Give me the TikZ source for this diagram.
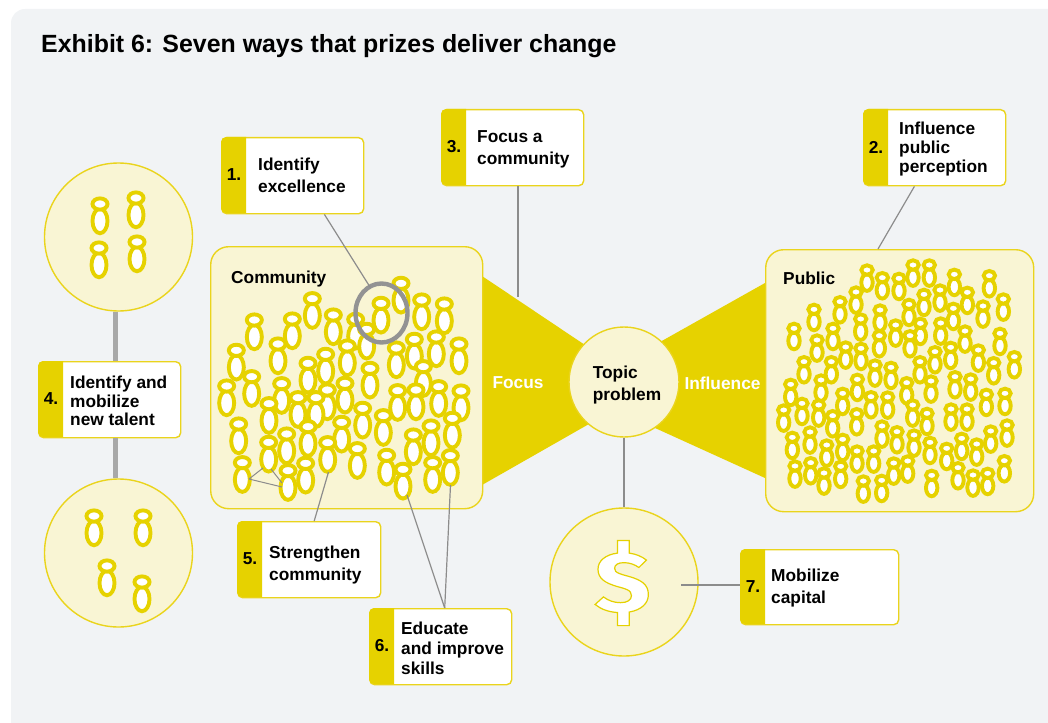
\documentclass[tikz,border=0pt]{standalone}
\usepackage{fontspec}
\setmainfont{Liberation Sans}
\usetikzlibrary{shapes.geometric}
\definecolor{yel}{HTML}{E6D200}
\definecolor{edgey}{HTML}{EAD41C}
\definecolor{pale}{HTML}{F9F5D4}
\definecolor{panel}{HTML}{F1F3F5}
\definecolor{conn}{HTML}{8C8C8C}
\definecolor{thick}{HTML}{A8A8A8}
\definecolor{ringc}{HTML}{939393}
\font\dollarf="Fira Sans/B:extend=1.2;embolden=1.4" at 86pt
\tikzset{
  x=1pt,y=-1pt,
  every node/.style={inner sep=0pt,font=\fontsize{17.3}{20}\bfseries\selectfont},
  bigpanel/.style={draw=edgey,line width=1.4pt,fill=pale,rounded corners=18pt,anchor=north west},
  disc/.style={circle,draw=edgey,line width=1.4pt,fill=pale},
  whitebox/.style={draw=edgey,line width=1.4pt,fill=white,rounded corners=5pt,anchor=north west},
  conline/.style={draw=conn,line width=1.2pt},
  thickline/.style={draw=thick,line width=4.6pt},
  ringed/.style={ellipse,draw=ringc,line width=4.4pt,minimum width=52pt,minimum height=59pt},
  figline/.style={draw=yel,fill=white,line width=3.9pt},
  figsmall/.style={draw=yel,fill=white,line width=3.9pt},
  boxtext/.style={anchor=west,align=left},
  ls/.style={font=\fontsize{17.3}{#1}\bfseries\selectfont},
}
\newcommand{\figA}[2]{%
  \draw[figline] (#1,#2+17) ellipse[x radius=7.5pt,y radius=12.2pt];
  \draw[figline] (#1,#2) ellipse[x radius=7.5pt,y radius=5.6pt];}
\newcommand{\figB}[2]{%
  \draw[figsmall] (#1,#2+12.5) ellipse[x radius=5.7pt,y radius=8.4pt];
  \draw[figsmall] (#1,#2) ellipse[x radius=5.7pt,y radius=4.7pt];}
% name, x, y, w, h, number
\newcommand{\labelbox}[6]{%
  \node[whitebox,minimum width=#4pt,minimum height=#5pt] (#1) at (#2,#3) {};
  \fill[yel] (#2+25,#3) -- (#2+5,#3) [rounded corners=5pt] -- (#2,#3) -- (#2,#3+#5) [sharp corners] -- (#2+25,#3+#5) -- cycle;
  \node (#1num) at (#2+13,#3+#5/2) {#6};}
\begin{document}
\begin{tikzpicture}
\useasboundingbox (0,0) rectangle (1048,722);
\fill[panel,rounded corners=14pt] (1070,735) -- (11,735) -- (11,9) -- (1070,9) -- cycle;
\fill[panel] (1048,30) -- (1048,725) -- (30,725) -- (30,722) -- cycle;
\node[anchor=base west,font=\fontsize{24.9}{28}\bfseries\selectfont] (title) at (41,53) {Exhibit 6: Seven ways that prizes deliver change};
% bow tie
\fill[yel] (482,276) -- (585,345) -- (589,424) -- (482,485) -- cycle;
\fill[yel] (765,283) -- (660,342) -- (655,428) -- (765,478) -- cycle;
% panels
\node[bigpanel,minimum width=272pt,minimum height=262pt] (community) at (210,246) {};
\node[bigpanel,minimum width=268pt,minimum height=262pt] (public) at (765,249) {};
\node[disc,minimum size=110pt] (topic) at (624,382) {};
\node[align=left,ls=22.5] (topictxt) at (627,385) {Topic\\problem};
\node[text=white] (focus) at (518,383) {Focus};
\node[text=white] (influence) at (722.5,383) {Influence};
\node[disc,minimum size=148pt] (capital) at (624,582) {};
\node[disc,minimum size=148pt] (talentA) at (118.5,237) {};
\node[disc,minimum size=148pt] (talentB) at (118.5,553) {};
\node[anchor=west] (publiclbl) at (783,278) {Public};
\node[anchor=west] (communitylbl) at (231,279.5) {Community};
\node (dollar) at (622.5,583) {\special{pdf:bcolor [1 1 1] [0.9 0.82 0]}\dollarf\$\special{pdf:ec}};
% community figures
\foreach \a/\b in {163/240,277/237,337/176,400/225,467/238,500/268,543/190,603/130,665/180,733/192,
 109/331,234/312,324/370,377/343,442/318,589/324,643/298,709/291,777/312,
 80/438,155/410,245/431,382/450,294/473,348/473,435/430,510/385,670/380,593/452,648/450,716/440,783/453,
 207/491,116/552,324/560,425/547,488/505,550/527,757/535,693/558,640/585,
 206/607,260/582,383/608,472/626,560/646,
 127/668,264/692,317/670,609/688,698/668,751/647}{
  \figA{200+\a/3}{240+\b/3}
}
% public figures
\foreach \a/\b in {321/75,367/98,417/100,459/60,508/60,583/88,688/92,
 288/141,492/148,540/135,622/142,730/162,240/170,162/193,360/195,447/178,669/183,580/190,
 102/250,219/250,302/222,407/240,481/235,542/234,615/258,720/265,
 171/285,257/306,358/272,450/272,303/310,525/320,572/307,655/315,763/335,
 132/350,214/350,345/360,393/367,480/350,701/353,
 92/418,183/405,292/403,440/413,513/408,585/395,632/402,
 126/475,248/445,333/455,383/456,458/480,679/448,735/445,
 71/495,176/480,218/512,290/506,501/505,573/492,621/492,741/540,
 97/577,150/561,366/543,411/560,462/570,510/592,605/580,692/558,
 200/600,248/583,291/618,341/618,560/610,650/597,
 105/663,152/653,242/664,192/684,401/654,443/648,594/668,733/647,
 515/691,639/690,683/685,310/708,365/706}{
  \figB{760+\a/3}{245+\b/3}
}
% talent figures
\figA{100}{204}\figA{136}{198}\figA{99}{248}\figA{137}{242}
\figA{94}{516}\figA{143}{516}\figA{107}{566}\figA{142}{582}
% highlight ring
\node[ringed] (ring) at (381.5,313) {};
% labels
\labelbox{one}{221}{137}{142}{76}{1.}
\node[boxtext,ls=22] (onetxt) at (258,175) {Identify\\excellence};
\labelbox{three}{441}{109}{142}{76}{3.}
\node[boxtext,ls=22] (threetxt) at (477,149) {Focus a\\community};
\labelbox{two}{863}{109}{142}{76}{2.}
\node[boxtext,ls=18.7] (twotxt) at (899,149) {Influence\\public\\perception};
\labelbox{four}{38}{361}{142}{76}{4.}
\node[boxtext,ls=18.7] (fourtxt) at (70,401) {Identify and\\mobilize\\new talent};
\labelbox{five}{237}{521}{143}{76}{5.}
\node[boxtext,ls=22] (fivetxt) at (269,565) {Strengthen\\community};
\labelbox{six}{369}{608}{142}{76}{6.}
\node[boxtext,ls=20] (sixtxt) at (401,648) {Educate\\and improve\\skills};
\labelbox{seven}{740}{549}{158}{75}{7.}
\node[boxtext,ls=22] (seventxt) at (771,588) {Mobilize\\capital};
% connector ends
\coordinate (focusEnd) at (518,297);
\coordinate (strongEnd) at (328.5,472);
\coordinate (eduA) at (407,495);
\coordinate (eduB) at (450.5,485);
\coordinate (capEnd) at (681,585);
\coordinate (t1) at (249,479);
\coordinate (t2) at (263,468);
\coordinate (t3) at (282,487);
\coordinate (t4) at (271,469);
\coordinate (t5) at (282,483);
% connectors
\draw[conline] ([xshift=-40pt]one.south east) -- (370,287);
\draw[conline] (three.south -| focusEnd) -- (focusEnd);
\draw[conline] ([xshift=-92pt]two.south east) -- ([xshift=113pt]public.north west);
\draw[conline] ([xshift=5pt]five.north) -- (strongEnd);
\draw[conline] ([xshift=4pt]six.north) -- (eduA);
\draw[conline] ([xshift=4pt]six.north) -- (eduB);
\draw[conline] (topic.south) -- (capital.north);
\draw[conline] (capEnd) -- (capEnd -| seven.west);
\draw[conline,line width=1pt] (t1) -- (t2) (t1) -- (t3) (t4) -- (t5);
\draw[thickline] (talentA.south -| 115.5,0) -- (four.north -| 115.5,0);
\draw[thickline] (four.south -| 115.5,0) -- (talentB.north -| 115.5,0);
\end{tikzpicture}
\end{document}
